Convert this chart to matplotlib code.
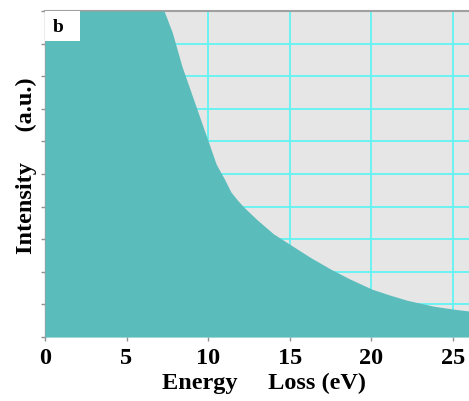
import matplotlib
matplotlib.use("Agg")
import matplotlib.pyplot as plt
from matplotlib.patches import Rectangle

energy = [0.0, 7.3, 7.8, 8.4, 9.1, 9.8, 10.5, 11.0, 11.4, 11.8, 12.2, 13.0, 14.0, 15.0,
          16.25, 17.5, 18.7, 20.05, 21.2, 22.2, 23.8, 25.0, 26.0]
intensity = [10.0, 10.0, 9.35, 8.3, 7.3, 6.3, 5.3, 4.85, 4.45, 4.2, 3.98, 3.6, 3.17, 2.85,
             2.45, 2.09, 1.78, 1.47, 1.28, 1.13, 0.95, 0.86, 0.80]
x_ticks = [0, 5, 10, 15, 20, 25]
y_grid = list(range(0, 11))

fill_color = "#5bbcbc"
bg_color = "#e6e6e6"
grid_color = "#62f3f3"
serif = "Liberation Serif"

fig = plt.figure(figsize=(4.69, 4.02), dpi=100)
ax = fig.add_axes([0.096, 0.159, 0.904, 0.811])
ax.set_facecolor(bg_color)
ax.set_xlim(0, 26.0)
ax.set_ylim(0, 10)

ax.set_xticks(x_ticks)
ax.set_yticks(y_grid)
ax.set_yticklabels([])
ax.grid(True, color=grid_color, linewidth=1.3)
ax.set_axisbelow(True)

ax.fill_between(energy, intensity, 0, color=fill_color, linewidth=0, zorder=3)

for s in ["right", "bottom"]:
    ax.spines[s].set_visible(False)
ax.spines["top"].set_color("#a0a0a0")
ax.spines["left"].set_color("#a0a0a0")
ax.spines["top"].set_linewidth(1.5)
ax.spines["left"].set_linewidth(1.0)
ax.tick_params(axis="both", length=3, color="#909090", width=1, pad=4)

for lbl in ax.get_xticklabels():
    lbl.set_fontfamily(serif)
    lbl.set_fontweight("bold")
    lbl.set_fontsize(17.5)

ax.set_xlabel("Energy     Loss (eV)", fontfamily=serif, fontweight="bold", fontsize=17.5)
ax.set_ylabel("Intensity     (a.u.)", fontfamily=serif, fontweight="bold", fontsize=17.5)
ax.xaxis.set_label_coords(0.516, -0.105)
ax.yaxis.set_label_coords(-0.018, 0.53)

ax.add_patch(Rectangle((0, 1 - 0.092), 0.083, 0.092, transform=ax.transAxes,
                       facecolor="white", edgecolor="none", zorder=5))
ax.text(0.03, 1 - 0.046, "b", transform=ax.transAxes, ha="center", va="center",
        fontfamily=serif, fontweight="bold", fontsize=14, zorder=6)

fig.savefig("out.png", dpi=100)
